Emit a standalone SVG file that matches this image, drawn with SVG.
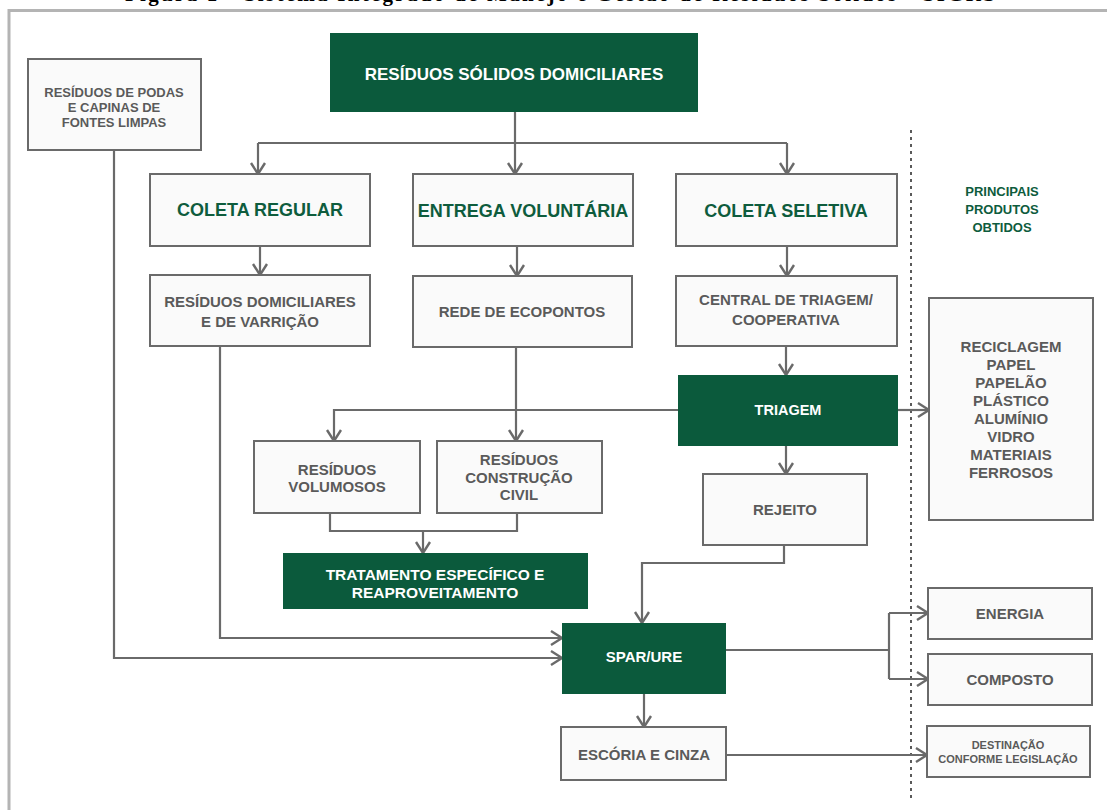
<svg xmlns="http://www.w3.org/2000/svg" width="1107" height="810" viewBox="0 0 1107 810">
  <style>
    .box { fill: #fafafa; stroke: #6a6a6a; stroke-width: 2; }
    .gbox { fill: #0b5a3c; }
    .lbl { font-family: "Liberation Sans", Arial, sans-serif; font-weight: bold; text-anchor: middle; }
    .gray { fill: #5a5a5a; }
    .green { fill: #0e5c3d; }
    .white { fill: #ffffff; }
    .wire { fill: none; stroke: #6a6a6a; stroke-width: 2.2; }
    .arr { marker-end: url(#chev); }
  </style>
  <defs>
    <marker id="chev" markerUnits="userSpaceOnUse" markerWidth="16" markerHeight="18" refX="12" refY="8" orient="auto" overflow="visible">
      <path d="M1,1 L12,8 L1,15" fill="none" stroke="#6a6a6a" stroke-width="2.4"/>
    </marker>
  </defs>

  <rect width="1107" height="810" fill="#ffffff"/>

  <!-- caption above the frame -->
  <text x="125" y="1" font-family="'Liberation Serif', 'Times New Roman', serif" font-weight="bold" font-size="21" textLength="870" fill="#000">Figura 1 - Sistema Integrado de Manejo e Gestão de Resíduos Sólidos - SIGRS</text>

  <!-- page frame -->
  <path d="M9,810 V10.5 H1107" fill="none" stroke="#b4b4b4" stroke-width="3"/>

  <!-- divider before the products column -->
  <path d="M911,130 V800" fill="none" stroke="#5a5a5a" stroke-width="2" stroke-dasharray="3 4"/>

  <g id="connectors">
    <path class="wire arr" d="M515,112 V174"/>
    <path class="wire" d="M258,143 H787"/>
    <path class="wire arr" d="M258,143 V174"/>
    <path class="wire arr" d="M787,143 V174"/>
    <path class="wire arr" d="M260,246 V275"/>
    <path class="wire arr" d="M517,246 V276"/>
    <path class="wire arr" d="M787,246 V276"/>
    <path class="wire arr" d="M786,346 V375"/>
    <path class="wire arr" d="M898,410 H929"/>
    <path class="wire arr" d="M678,410 H334 V441"/>
    <path class="wire arr" d="M516,347 V441"/>
    <path class="wire" d="M330,513 V531 H517 V513"/>
    <path class="wire arr" d="M423,531 V553"/>
    <path class="wire arr" d="M786,446 V474"/>
    <path class="wire arr" d="M784,545 V563 H642 V623"/>
    <path class="wire arr" d="M114,150 V658 H562"/>
    <path class="wire arr" d="M220,346 V638 H562"/>
    <path class="wire" d="M726,650 H889 M889,613 V679"/>
    <path class="wire arr" d="M889,613 H928"/>
    <path class="wire arr" d="M889,679 H928"/>
    <path class="wire arr" d="M644,694 V727"/>
    <path class="wire arr" d="M726,755 H927"/>
  </g>

  <g id="n-rsd">
    <rect class="gbox" x="330" y="33" width="368" height="79"/>
    <text class="lbl white" x="514" y="80" font-size="17">RESÍDUOS SÓLIDOS DOMICILIARES</text>
  </g>

  <g id="n-podas">
    <rect class="box" x="28" y="59" width="173" height="91"/>
    <text class="lbl gray" x="114" y="97" font-size="13">RESÍDUOS DE PODAS</text>
    <text class="lbl gray" x="114" y="112" font-size="13">E CAPINAS DE</text>
    <text class="lbl gray" x="114" y="127" font-size="13">FONTES LIMPAS</text>
  </g>

  <g id="n-coleta-regular">
    <rect class="box" x="150" y="174" width="220" height="72"/>
    <text class="lbl green" x="260" y="216" font-size="18">COLETA REGULAR</text>
  </g>

  <g id="n-entrega">
    <rect class="box" x="413" y="174" width="220" height="72"/>
    <text class="lbl green" x="523" y="217" font-size="18">ENTREGA VOLUNTÁRIA</text>
  </g>

  <g id="n-coleta-seletiva">
    <rect class="box" x="676" y="174" width="221" height="72"/>
    <text class="lbl green" x="786" y="217" font-size="18">COLETA SELETIVA</text>
  </g>

  <g id="n-res-dom">
    <rect class="box" x="150" y="275" width="220" height="71"/>
    <text class="lbl gray" x="260" y="307" font-size="15">RESÍDUOS DOMICILIARES</text>
    <text class="lbl gray" x="260" y="327" font-size="15">E DE VARRIÇÃO</text>
  </g>

  <g id="n-rede">
    <rect class="box" x="413" y="276" width="219" height="71"/>
    <text class="lbl gray" x="522" y="317" font-size="15">REDE DE ECOPONTOS</text>
  </g>

  <g id="n-central">
    <rect class="box" x="676" y="276" width="221" height="70"/>
    <text class="lbl gray" x="786" y="305" font-size="15">CENTRAL DE TRIAGEM/</text>
    <text class="lbl gray" x="786" y="325" font-size="15">COOPERATIVA</text>
  </g>

  <g id="n-triagem">
    <rect class="gbox" x="678" y="375" width="220" height="71"/>
    <text class="lbl white" x="788" y="415" font-size="14.5">TRIAGEM</text>
  </g>

  <g id="n-produtos">
    <text class="lbl green" x="1002" y="196" font-size="13">PRINCIPAIS</text>
    <text class="lbl green" x="1002" y="214" font-size="13">PRODUTOS</text>
    <text class="lbl green" x="1002" y="232" font-size="13">OBTIDOS</text>
  </g>

  <g id="n-reciclagem">
    <rect class="box" x="929" y="298" width="164" height="222"/>
    <text class="lbl gray" x="1011" y="352" font-size="15">RECICLAGEM</text>
    <text class="lbl gray" x="1011" y="370" font-size="15">PAPEL</text>
    <text class="lbl gray" x="1011" y="388" font-size="15">PAPELÃO</text>
    <text class="lbl gray" x="1011" y="406" font-size="15">PLÁSTICO</text>
    <text class="lbl gray" x="1011" y="424" font-size="15">ALUMÍNIO</text>
    <text class="lbl gray" x="1011" y="442" font-size="15">VIDRO</text>
    <text class="lbl gray" x="1011" y="460" font-size="15">MATERIAIS</text>
    <text class="lbl gray" x="1011" y="478" font-size="15">FERROSOS</text>
  </g>

  <g id="n-volumosos">
    <rect class="box" x="254" y="441" width="166" height="72"/>
    <text class="lbl gray" x="337" y="475" font-size="15">RESÍDUOS</text>
    <text class="lbl gray" x="337" y="492" font-size="15">VOLUMOSOS</text>
  </g>

  <g id="n-construcao">
    <rect class="box" x="437" y="441" width="165" height="72"/>
    <text class="lbl gray" x="519" y="465" font-size="15">RESÍDUOS</text>
    <text class="lbl gray" x="519" y="483" font-size="15">CONSTRUÇÃO</text>
    <text class="lbl gray" x="519" y="500" font-size="15">CIVIL</text>
  </g>

  <g id="n-tratamento">
    <rect class="gbox" x="283" y="553" width="305" height="56"/>
    <text class="lbl white" x="435" y="580" font-size="15.5">TRATAMENTO ESPECÍFICO E</text>
    <text class="lbl white" x="435" y="598" font-size="15.5">REAPROVEITAMENTO</text>
  </g>

  <g id="n-rejeito">
    <rect class="box" x="703" y="474" width="164" height="71"/>
    <text class="lbl gray" x="785" y="515" font-size="15">REJEITO</text>
  </g>

  <g id="n-spar">
    <rect class="gbox" x="562" y="623" width="164" height="71"/>
    <text class="lbl white" x="644" y="662" font-size="15">SPAR/URE</text>
  </g>

  <g id="n-escoria">
    <rect class="box" x="561" y="727" width="165" height="53"/>
    <text class="lbl gray" x="644" y="760" font-size="15">ESCÓRIA E CINZA</text>
  </g>

  <g id="n-energia">
    <rect class="box" x="928" y="588" width="164" height="51"/>
    <text class="lbl gray" x="1010" y="619" font-size="15">ENERGIA</text>
  </g>

  <g id="n-composto">
    <rect class="box" x="928" y="654" width="164" height="51"/>
    <text class="lbl gray" x="1010" y="685" font-size="15">COMPOSTO</text>
  </g>

  <g id="n-destinacao">
    <rect class="box" x="927" y="726" width="163" height="51"/>
    <text class="lbl gray" x="1008" y="749" font-size="11">DESTINAÇÃO</text>
    <text class="lbl gray" x="1008" y="763" font-size="11">CONFORME LEGISLAÇÃO</text>
  </g>
</svg>
